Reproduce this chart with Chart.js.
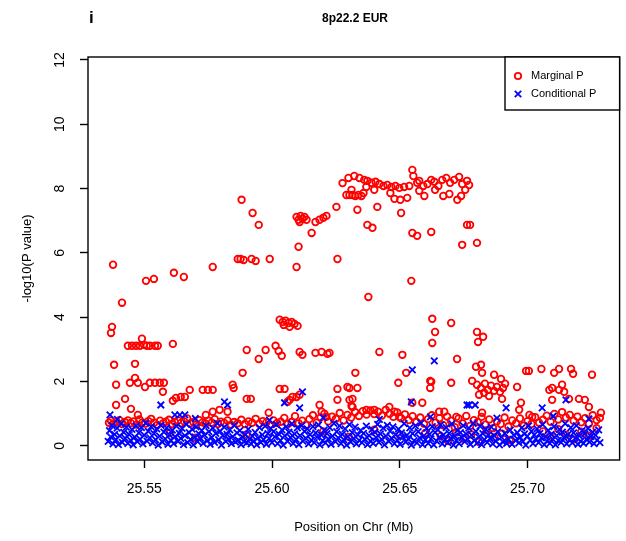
<!DOCTYPE html>
<html>
<head>
<meta charset="utf-8">
<script src="https://cdn.jsdelivr.net/npm/chart.js@4.4.0/dist/chart.umd.min.js"></script>
<style>
  html, body { margin: 0; padding: 0; background: #fff; }
  canvas { display: block; }
</style>
</head>
<body>
<canvas id="assoc" width="626" height="541"></canvas>
<script>
// position (Mb) and -log10(P) for each SNP
const marginalP = [
  // top signal
  [25.6276,8.17],[25.6299,8.33],[25.6322,8.39],[25.6342,8.33],[25.6361,8.27],[25.6373,8.24],[25.6389,8.18],[25.6405,8.21],
  [25.6420,8.14],[25.6436,8.08],[25.6451,8.11],[25.6467,8.05],[25.6483,8.08],[25.6498,8.02],[25.6517,8.05],[25.6537,8.08],
  [25.6549,8.58],[25.6553,8.39],[25.6568,8.18],[25.6576,8.24],[25.6592,8.08],[25.6608,8.14],[25.6623,8.27],[25.6635,8.21],
  [25.6651,8.08],[25.6666,8.27],[25.6682,8.33],[25.6697,8.18],[25.6713,8.27],[25.6732,8.36],[25.6744,8.14],[25.6763,8.24],
  [25.6771,8.11],[25.6291,7.80],[25.6303,7.80],[25.6315,7.80],[25.6326,7.77],[25.6338,7.80],[25.6350,7.77],[25.6358,7.86],
  [25.6311,7.96],[25.6369,8.05],[25.6400,7.96],[25.6463,7.86],[25.6502,7.65],[25.6529,7.71],[25.6576,7.93],[25.6596,7.77],
  [25.6638,7.96],[25.6670,7.77],[25.6694,7.83],[25.6725,7.65],[25.6740,7.77],[25.6756,7.96],[25.6252,7.43],[25.6334,7.34],
  [25.6412,7.43],[25.6479,7.68],[25.6505,7.24],[25.6373,6.87],[25.6393,6.78],[25.6549,6.62],[25.6568,6.53],[25.6623,6.65],
  [25.6763,6.87],[25.6775,6.87],[25.6802,6.31],[25.6744,6.25],[25.6545,5.13],[25.6377,4.63],[25.6256,5.81],
  [25.6096,7.12],[25.6104,7.03],[25.6112,7.15],[25.6119,7.06],[25.6127,7.12],[25.6135,7.03],[25.6108,6.96],[25.6170,6.96],
  [25.6186,7.03],[25.6201,7.09],[25.6213,7.15],
  // left shoulder
  [25.5378,5.63],[25.5507,5.13],[25.5538,5.19],[25.5616,5.38],[25.5655,5.25],[25.5768,5.56],[25.5866,5.81],[25.5877,5.81],
  [25.5889,5.78],[25.5920,5.81],[25.5936,5.75],[25.5991,5.81],[25.5881,7.65],[25.5924,7.24],[25.5948,6.87],[25.6096,5.56],
  [25.6104,6.19],[25.6155,6.62],[25.5413,4.45],[25.5374,3.70],[25.5370,3.51],
  // 2-4
  [25.6030,3.92],[25.6042,3.85],[25.6053,3.89],[25.6065,3.82],[25.6077,3.85],[25.6088,3.79],[25.6100,3.73],[25.6046,3.76],
  [25.6069,3.70],[25.5436,3.11],[25.5452,3.11],[25.5468,3.11],[25.5483,3.11],[25.5499,3.14],[25.5510,3.11],[25.5491,3.33],
  [25.5522,3.11],[25.5542,3.11],[25.5553,3.11],[25.5612,3.17],[25.5382,2.52],[25.5464,2.55],[25.5901,2.98],[25.5948,2.70],
  [25.5975,2.98],[25.6014,3.11],[25.6026,2.95],[25.6038,2.80],[25.6108,2.92],[25.6119,2.83],[25.6170,2.89],[25.6194,2.92],
  [25.6217,2.86],[25.5885,2.27],[25.6225,2.89],[25.6420,2.92],[25.6510,2.83],[25.6326,2.27],[25.6627,3.95],[25.6701,3.82],
  [25.6638,3.54],[25.6627,3.20],[25.6724,2.70],[25.6802,3.54],[25.6806,3.23],[25.6826,3.39],[25.6798,2.46],[25.6818,2.52],
  [25.6822,2.27],[25.6869,2.21],[25.6896,2.08],[25.6783,2.02],[25.6701,1.96],[25.6619,2.02],[25.6619,1.80],[25.6494,1.96],
  [25.6525,2.27],[25.6959,1.83],[25.6994,2.33],[25.7005,2.33],[25.7054,2.39],[25.7104,2.27],[25.7123,2.39],[25.7170,2.39],
  [25.7178,2.24],[25.7252,2.21],
  // 1-2
  [25.6802,1.90],[25.6818,1.80],[25.6833,1.93],[25.6845,1.74],[25.6857,1.87],[25.6869,1.71],[25.6880,1.83],[25.6892,1.68],
  [25.6904,1.80],[25.6912,1.93],[25.6830,1.65],[25.6849,1.55],[25.6900,1.46],[25.6810,1.59],[25.7085,1.74],[25.7096,1.80],
  [25.7123,1.74],[25.7135,1.90],[25.7143,1.68],[25.7096,1.43],[25.7162,1.46],[25.7201,1.46],[25.7224,1.43],[25.7240,1.21],
  [25.7287,1.03],[25.7283,0.87],[25.6974,1.34],[25.6967,1.12],[25.7007,0.96],[25.6654,1.06],[25.6674,1.06],[25.6822,1.03],
  [25.6721,0.90],[25.7018,0.90],[25.5390,1.90],[25.5444,1.96],[25.5464,2.11],[25.5475,1.96],[25.5503,1.83],[25.5522,1.96],
  [25.5542,1.96],[25.5561,1.96],[25.5577,1.96],[25.5573,1.68],[25.5390,1.27],[25.5425,1.46],[25.5448,1.15],[25.5475,0.96],
  [25.5612,1.40],[25.5624,1.49],[25.5643,1.52],[25.5659,1.52],[25.5678,1.74],[25.5729,1.74],[25.5749,1.74],[25.5768,1.74],
  [25.5846,1.90],[25.5850,1.80],[25.5901,1.46],[25.5917,1.46],[25.5741,0.96],[25.5768,1.06],[25.5795,1.12],[25.5826,1.06],
  [25.6030,1.77],[25.6049,1.77],[25.6061,1.37],[25.6069,1.43],[25.6080,1.52],[25.6096,1.52],[25.6108,1.59],[25.5987,1.03],
  [25.6186,1.27],[25.6194,1.06],[25.6213,0.90],[25.6256,1.77],[25.6256,1.43],[25.6295,1.83],[25.6303,1.80],[25.6334,1.80],
  [25.6303,1.43],[25.6311,1.24],[25.6315,1.46],[25.6315,1.21],[25.6369,1.12],[25.6400,1.12],[25.6459,1.21],[25.6479,1.06],
  [25.6498,0.90],[25.6623,1.99],[25.6549,1.34],[25.6588,1.34],
  // below 1
  [25.5362,0.72],[25.5370,0.78],[25.5380,0.70],[25.5392,0.75],[25.5403,0.80],[25.5413,0.68],[25.5424,0.74],[25.5436,0.79],
  [25.5447,0.71],[25.5458,0.76],[25.5470,0.66],[25.5481,0.82],[25.5493,0.73],[25.5504,0.69],[25.5516,0.77],[25.5527,0.84],
  [25.5539,0.72],[25.5551,0.65],[25.5562,0.78],[25.5574,0.70],[25.5585,0.75],[25.5597,0.81],[25.5609,0.68],[25.5620,0.74],
  [25.5632,0.79],[25.5644,0.71],[25.5656,0.76],[25.5668,0.85],[25.5680,0.70],[25.5692,0.74],[25.5704,0.66],[25.5716,0.80],
  [25.5728,0.73],[25.5740,0.69],[25.5752,0.78],[25.5764,0.72],[25.5776,0.83],[25.5788,0.68],[25.5800,0.75],[25.5813,0.71],
  [25.5826,0.79],[25.5839,0.66],[25.5852,0.74],[25.5866,0.70],[25.5880,0.81],[25.5894,0.68],[25.5908,0.76],[25.5922,0.72],
  [25.5936,0.84],[25.5950,0.69],[25.5964,0.77],[25.5978,0.73],[25.5992,0.66],[25.6006,0.79],[25.6020,0.71],[25.6034,0.75],
  [25.6048,0.87],[25.6062,0.68],[25.6076,0.74],[25.6090,0.92],[25.6104,0.70],[25.6118,0.78],[25.6132,0.65],[25.6146,0.83],
  [25.6160,0.95],[25.6175,0.72],[25.6190,0.88],[25.6205,1.00],[25.6220,0.76],[25.6235,0.91],[25.6250,0.84],[25.6265,1.02],
  [25.6280,0.79],[25.6295,0.96],[25.6310,0.88],[25.6325,1.05],[25.6340,0.93],[25.6355,1.08],[25.6370,0.97],[25.6385,1.10],
  [25.6400,0.99],[25.6415,1.06],[25.6430,0.94],[25.6445,1.12],[25.6460,1.00],[25.6475,0.90],[25.6490,1.04],[25.6505,0.86],
  [25.6520,0.98],[25.6535,0.80],[25.6550,0.92],[25.6565,0.74],[25.6580,0.88],[25.6595,0.69],[25.6610,0.83],[25.6625,0.95],
  [25.6640,0.72],[25.6655,0.86],[25.6670,0.64],[25.6685,0.91],[25.6700,0.78],[25.6715,0.58],[25.6730,0.85],[25.6745,0.70],
  [25.6760,0.93],[25.6775,0.62],[25.6790,0.80],[25.6805,0.74],[25.6820,0.90],[25.6835,0.66],[25.6850,0.82],[25.6865,0.55],
  [25.6880,0.76],[25.6895,0.68],[25.6910,0.88],[25.6925,0.60],[25.6940,0.79],[25.6955,0.70],[25.6970,0.85],[25.6985,0.63],
  [25.7000,0.77],[25.7015,0.68],[25.7030,0.89],[25.7045,0.72],[25.7060,0.81],[25.7075,0.94],[25.7090,0.75],[25.7105,0.99],
  [25.7120,0.82],[25.7135,1.05],[25.7150,0.88],[25.7165,0.96],[25.7180,0.78],[25.7195,0.91],[25.7210,0.73],[25.7225,0.86],
  [25.7240,0.69],[25.7255,0.95],[25.7270,0.80],
  [25.6660,0.30],[25.6690,0.15],[25.6720,0.42],[25.6750,0.22],[25.6780,0.35],[25.6810,0.12],[25.6840,0.48],[25.6870,0.26],
  [25.6900,0.38],[25.6930,0.18],[25.7060,0.45],[25.7090,0.28],[25.7120,0.52],[25.7150,0.35],[25.7180,0.20],[25.7210,0.44],
  [25.7240,0.31],[25.7270,0.55],[25.5600,0.40],[25.5700,0.25],[25.5900,0.35],[25.6200,0.45],[25.6300,0.28],[25.6400,0.50],
  [25.6500,0.33],[25.6600,0.40]
];

const conditionalP = [
  // residual peaks
  [25.5366,0.96],[25.5395,0.82],[25.5565,1.27],[25.5620,0.96],[25.5639,0.96],[25.5659,0.96],[25.5826,1.27],[25.5814,1.37],
  [25.6049,1.34],[25.6108,1.18],[25.6119,1.68],[25.6545,1.37],[25.6549,2.36],[25.6635,2.64],[25.6763,1.27],[25.6771,1.27],
  [25.6795,1.27],[25.6916,1.18],[25.7057,1.18],[25.7150,1.43],[25.5700,0.85],[25.5990,0.80],[25.6200,0.88],[25.6420,0.82],
  [25.6620,0.90],[25.6880,0.86],[25.7100,0.92],[25.7240,0.84],
  // background
  [25.5359,0.14],[25.5364,0.47],[25.5369,0.28],[25.5374,0.63],[25.5378,0.06],[25.5384,0.36],[25.5389,0.19],[25.5394,0.55],
  [25.5399,0.04],[25.5404,0.31],[25.5409,0.68],[25.5414,0.11],[25.5420,0.42],[25.5425,0.24],[25.5430,0.58],[25.5436,0.08],
  [25.5441,0.35],[25.5447,0.17],[25.5452,0.51],[25.5457,0.03],[25.5463,0.27],[25.5468,0.62],[25.5473,0.13],[25.5479,0.40],
  [25.5484,0.21],[25.5489,0.57],[25.5495,0.06],[25.5500,0.33],[25.5506,0.71],[25.5511,0.15],[25.5516,0.45],[25.5522,0.25],
  [25.5527,0.60],[25.5533,0.09],[25.5538,0.38],[25.5544,0.19],[25.5549,0.53],[25.5555,0.02],[25.5560,0.30],[25.5566,0.64],
  [25.5571,0.12],[25.5577,0.43],[25.5582,0.22],[25.5588,0.56],[25.5593,0.05],[25.5599,0.34],[25.5604,0.18],[25.5610,0.49],
  [25.5615,0.07],[25.5621,0.29],[25.5626,0.61],[25.5632,0.14],[25.5637,0.39],[25.5643,0.23],[25.5648,0.54],[25.5654,0.04],
  [25.5659,0.32],[25.5665,0.67],[25.5670,0.10],[25.5676,0.41],[25.5681,0.20],[25.5687,0.52],[25.5692,0.03],[25.5698,0.28],
  [25.5703,0.59],[25.5709,0.13],[25.5714,0.37],[25.5720,0.24],[25.5725,0.48],[25.5731,0.08],[25.5736,0.33],[25.5742,0.63],
  [25.5747,0.16],[25.5753,0.44],[25.5758,0.05],[25.5764,0.26],[25.5769,0.55],[25.5775,0.11],[25.5780,0.39],[25.5786,0.70],
  [25.5791,0.19],[25.5797,0.46],[25.5802,0.02],[25.5808,0.31],[25.5813,0.58],[25.5819,0.14],[25.5824,0.36],[25.5830,0.21],
  [25.5835,0.50],[25.5841,0.07],[25.5846,0.29],[25.5852,0.64],[25.5857,0.12],[25.5863,0.40],[25.5868,0.18],[25.5874,0.47],
  [25.5879,0.04],[25.5885,0.27],[25.5890,0.13],[25.5896,0.35],[25.5901,0.09],[25.5907,0.52],[25.5912,0.22],[25.5918,0.06],
  [25.5923,0.30],[25.5929,0.15],[25.5934,0.42],[25.5940,0.03],[25.5945,0.25],[25.5951,0.57],[25.5956,0.11],[25.5962,0.34],
  [25.5967,0.19],[25.5973,0.61],[25.5978,0.05],[25.5984,0.38],[25.5989,0.23],[25.5995,0.54],[25.6000,0.10],[25.6006,0.44],
  [25.6011,0.28],[25.6017,0.66],[25.6022,0.07],[25.6028,0.36],[25.6033,0.17],[25.6039,0.50],[25.6044,0.02],[25.6050,0.31],
  [25.6055,0.59],[25.6061,0.14],[25.6066,0.43],[25.6072,0.26],[25.6077,0.68],[25.6083,0.08],[25.6088,0.37],[25.6094,0.20],
  [25.6099,0.56],[25.6105,0.04],[25.6110,0.32],[25.6116,0.63],[25.6121,0.15],[25.6127,0.45],[25.6132,0.24],[25.6138,0.53],
  [25.6143,0.06],[25.6149,0.35],[25.6154,0.18],[25.6160,0.60],[25.6165,0.10],[25.6171,0.40],[25.6176,0.27],[25.6182,0.65],
  [25.6187,0.03],[25.6193,0.33],[25.6198,0.16],[25.6204,0.49],[25.6209,0.09],[25.6215,0.38],[25.6220,0.22],[25.6226,0.57],
  [25.6231,0.05],[25.6237,0.30],[25.6242,0.70],[25.6248,0.13],[25.6253,0.44],[25.6259,0.25],[25.6264,0.62],[25.6270,0.07],
  [25.6275,0.36],[25.6281,0.19],[25.6286,0.53],[25.6292,0.02],[25.6297,0.29],[25.6303,0.66],[25.6308,0.12],[25.6314,0.41],
  [25.6319,0.23],[25.6325,0.58],[25.6330,0.06],[25.6336,0.34],[25.6341,0.17],[25.6347,0.48],[25.6352,0.10],[25.6358,0.39],
  [25.6363,0.21],[25.6369,0.61],[25.6374,0.04],[25.6380,0.32],[25.6385,0.15],[25.6391,0.51],[25.6396,0.08],[25.6402,0.43],
  [25.6407,0.26],[25.6413,0.67],[25.6418,0.11],[25.6424,0.37],[25.6429,0.20],[25.6435,0.55],[25.6440,0.03],[25.6446,0.30],
  [25.6451,0.64],[25.6457,0.14],[25.6462,0.46],[25.6468,0.24],[25.6473,0.59],[25.6479,0.07],[25.6484,0.35],[25.6490,0.18],
  [25.6495,0.52],[25.6501,0.05],[25.6506,0.40],[25.6512,0.27],[25.6517,0.69],[25.6523,0.12],[25.6528,0.33],[25.6534,0.21],
  [25.6539,0.56],[25.6545,0.02],[25.6550,0.38],[25.6556,0.16],[25.6561,0.62],[25.6567,0.09],[25.6572,0.44],[25.6578,0.25],
  [25.6583,0.71],[25.6589,0.04],[25.6594,0.31],[25.6600,0.19],[25.6605,0.54],[25.6611,0.08],[25.6616,0.36],[25.6622,0.22],
  [25.6627,0.60],[25.6633,0.03],[25.6638,0.42],[25.6644,0.15],[25.6649,0.50],[25.6655,0.27],[25.6660,0.65],[25.6666,0.06],
  [25.6671,0.34],[25.6677,0.20],[25.6682,0.57],[25.6688,0.10],[25.6693,0.39],[25.6699,0.24],[25.6704,0.68],[25.6710,0.02],
  [25.6715,0.30],[25.6721,0.17],[25.6726,0.48],[25.6732,0.07],[25.6737,0.41],[25.6743,0.26],[25.6748,0.63],[25.6754,0.13],
  [25.6759,0.37],[25.6765,0.21],[25.6770,0.55],[25.6776,0.05],[25.6781,0.33],[25.6787,0.70],[25.6792,0.16],[25.6798,0.45],
  [25.6803,0.09],[25.6809,0.28],[25.6814,0.61],[25.6820,0.04],[25.6825,0.38],[25.6831,0.19],[25.6836,0.52],[25.6842,0.11],
  [25.6847,0.34],[25.6853,0.23],[25.6858,0.58],[25.6864,0.06],[25.6870,0.31],[25.6876,0.15],[25.6883,0.44],[25.6890,0.03],
  [25.6897,0.27],[25.6904,0.12],[25.6911,0.39],[25.6918,0.08],[25.6925,0.21],[25.6932,0.49],[25.6939,0.05],[25.6946,0.33],
  [25.6953,0.17],[25.6960,0.41],[25.6966,0.09],[25.6971,0.26],[25.6977,0.56],[25.6982,0.14],[25.6988,0.37],[25.6993,0.02],
  [25.6999,0.30],[25.7004,0.62],[25.7010,0.18],[25.7015,0.45],[25.7021,0.07],[25.7026,0.34],[25.7032,0.22],[25.7037,0.53],
  [25.7043,0.10],[25.7048,0.39],[25.7054,0.25],[25.7059,0.66],[25.7065,0.04],[25.7070,0.29],[25.7076,0.15],[25.7081,0.48],
  [25.7087,0.08],[25.7092,0.36],[25.7098,0.21],[25.7103,0.60],[25.7109,0.03],[25.7114,0.32],[25.7120,0.17],[25.7125,0.51],
  [25.7131,0.11],[25.7136,0.43],[25.7142,0.26],[25.7147,0.69],[25.7153,0.06],[25.7158,0.35],[25.7164,0.19],[25.7169,0.57],
  [25.7175,0.09],[25.7180,0.40],[25.7186,0.24],[25.7191,0.63],[25.7197,0.05],[25.7202,0.31],[25.7208,0.14],[25.7213,0.47],
  [25.7219,0.08],[25.7224,0.37],[25.7230,0.20],[25.7236,0.54],[25.7242,0.12],[25.7248,0.29],[25.7254,0.43],[25.7260,0.07],
  [25.7266,0.33],[25.7272,0.18],[25.7278,0.50],[25.7283,0.10]
];

const xTicks = [25.55, 25.60, 25.65, 25.70];
const yTicks = [0, 2, 4, 6, 8, 10, 12];
const seriesNames = ['Marginal P', 'Conditional P'];
const seriesColors = ['#ff0000', '#0000ff'];

const FONT = '"Liberation Sans", Arial, Helvetica, sans-serif';
const toXY = pts => pts.map(([x, y]) => ({ x, y }));

// box around the plot, panel letter, title and legend
const decorations = {
  id: 'decorations',
  afterDraw(chart) {
    const { ctx, chartArea: a } = chart;
    ctx.save();
    ctx.strokeStyle = '#000';
    ctx.lineWidth = 1.4;
    ctx.strokeRect(a.left, a.top, a.right - a.left, a.bottom - a.top);

    ctx.fillStyle = '#000';
    ctx.textBaseline = 'middle';
    ctx.font = 'bold 17px ' + FONT;
    ctx.textAlign = 'left';
    ctx.fillText('i', 89, 18);
    ctx.font = 'bold 12px ' + FONT;
    ctx.textAlign = 'center';
    ctx.fillText('8p22.2 EUR', 355, 19);

    // legend in the top right corner
    const lx = 505, ly = a.top, lw = a.right - lx, lh = 53;
    ctx.fillStyle = '#fff';
    ctx.fillRect(lx, ly, lw, lh);
    ctx.strokeRect(lx, ly, lw, lh);
    ctx.font = '11px ' + FONT;
    ctx.textAlign = 'left';
    seriesNames.forEach((name, i) => {
      const cy = ly + 19 + i * 18;
      const cx = lx + 13;
      ctx.strokeStyle = seriesColors[i];
      ctx.lineWidth = 1.8;
      ctx.beginPath();
      if (i === 0) {
        ctx.arc(cx, cy, 3.2, 0, Math.PI * 2);
      } else {
        ctx.moveTo(cx - 3.2, cy - 3.2); ctx.lineTo(cx + 3.2, cy + 3.2);
        ctx.moveTo(cx - 3.2, cy + 3.2); ctx.lineTo(cx + 3.2, cy - 3.2);
      }
      ctx.stroke();
      ctx.fillStyle = '#000';
      ctx.fillText(name, lx + 26, cy);
    });
    ctx.restore();
  }
};

new Chart(document.getElementById('assoc'), {
  type: 'scatter',
  data: {
    datasets: [
      {
        label: seriesNames[1],
        data: toXY(conditionalP),
        pointStyle: 'crossRot',
        radius: 4.6,
        borderColor: seriesColors[1],
        borderWidth: 1.8,
        backgroundColor: 'rgba(0,0,0,0)',
        order: 0
      },
      {
        label: seriesNames[0],
        data: toXY(marginalP),
        pointStyle: 'circle',
        radius: 3.3,
        borderColor: seriesColors[0],
        borderWidth: 1.8,
        backgroundColor: 'rgba(0,0,0,0)',
        order: 1
      }
    ]
  },
  options: {
    responsive: false,
    animation: false,
    events: [],
    layout: { padding: { top: 57, right: 5, left: 0, bottom: 0 } },
    plugins: { legend: { display: false }, tooltip: { enabled: false } },
    scales: {
      x: {
        type: 'linear',
        min: 25.528,
        max: 25.736,
        afterBuildTicks: s => { s.ticks = xTicks.map(v => ({ value: v })); },
        afterFit: s => { s.height = 81; },
        border: { display: false },
        grid: { drawOnChartArea: false, tickLength: 8, color: '#000', tickWidth: 1.4 },
        ticks: {
          padding: 13,
          color: '#000',
          font: { family: FONT, size: 14 },
          maxRotation: 0,
          callback: v => v.toFixed(2)
        },
        title: {
          display: true,
          text: 'Position on Chr (Mb)',
          color: '#000',
          font: { family: FONT, size: 13 },
          padding: { top: 0, bottom: 6 }
        }
      },
      y: {
        type: 'linear',
        min: -0.44,
        max: 12.09,
        afterBuildTicks: s => { s.ticks = yTicks.map(v => ({ value: v })); },
        afterFit: s => { s.width = 88; },
        border: { display: false },
        grid: { drawOnChartArea: false, tickLength: 8, color: '#000', tickWidth: 1.4 },
        ticks: {
          padding: 12,
          color: '#000',
          crossAlign: 'center',
          minRotation: 90,
          maxRotation: 90,
          font: { family: FONT, size: 14 },
          callback: v => String(v)
        },
        title: {
          display: true,
          text: '-log10(P value)',
          color: '#000',
          font: { family: FONT, size: 13 },
          padding: { top: 20, bottom: 0 }
        }
      }
    }
  },
  plugins: [decorations]
});
</script>
</body>
</html>
